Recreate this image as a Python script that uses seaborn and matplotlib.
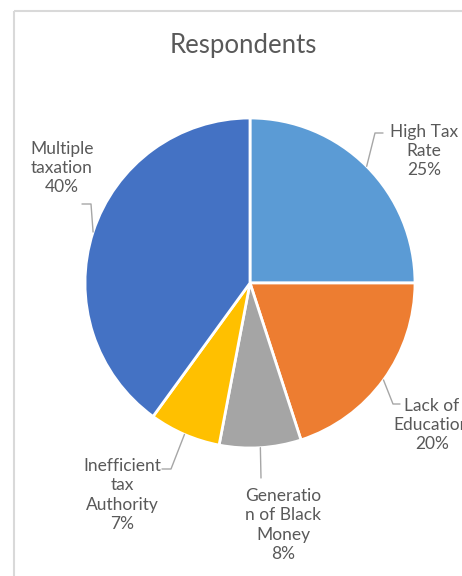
import numpy as np
import matplotlib
matplotlib.use("Agg")
import matplotlib.pyplot as plt
import seaborn as sns
from matplotlib.patches import Rectangle

# data
labels = ["High Tax\nRate", "Lack of\nEducation", "Generatio\nn of Black\nMoney",
          "Inefficient\ntax\nAuthority", "Multiple\ntaxation"]
shares = [25, 20, 8, 7, 40]
colors = ["#5B9BD5", "#ED7D31", "#A5A5A5", "#FFC000", "#4472C4"]

# label layout (pixel coords): elbow/end of leader, text centre
leader_pts = [[(375, 133), (383, 133)],
              [(393, 404), (400, 404)],
              [(261, 478)],
              [(171, 469), (162, 469)],
              [(91, 204), (82, 204)]]
text_pos = [(424, 151), (432, 425), (283, 525), (122, 495), (62, 168)]

sns.set_theme(style="white")
plt.rcParams['font.family'] = ['Lato', 'DejaVu Sans']

fig = plt.figure(figsize=(4.62, 5.76), dpi=100)
ax = fig.add_axes([0, 0, 1, 1])

cx, cy, r = 250, 283, 165
# y axis is inverted below, so counterclockwise in data = clockwise on screen
ax.pie(shares, colors=colors, startangle=-90, counterclock=True,
       center=(cx, cy), radius=r, frame=True,
       wedgeprops=dict(edgecolor="white", linewidth=2))
ax.set_xlim(0, 462)
ax.set_ylim(576, 0)
ax.axis("off")

# chart frame
ax.add_patch(Rectangle((14, 11), 470, 580, fill=False, edgecolor="#D9D9D9", lw=1.5))

total = sum(shares)
start = 90
for i, (lab, val) in enumerate(zip(labels, shares)):
    mid = start - val / total * 360 / 2
    start -= val / total * 360
    ex = cx + r * np.cos(np.radians(mid))
    ey = cy - r * np.sin(np.radians(mid))
    pts = [(ex, ey)] + leader_pts[i]
    ax.plot([p[0] for p in pts], [p[1] for p in pts], color="#A6A6A6", lw=1)
    tx, ty = text_pos[i]
    ax.text(tx, ty, f"{lab}\n{val}%", ha="center", va="center", fontsize=12.5,
            color="#595959", linespacing=1.25)

ax.text(243, 46, "Respondents", ha="center", va="center", fontsize=18.5, color="#595959")

fig.savefig("out.png", dpi=100)
